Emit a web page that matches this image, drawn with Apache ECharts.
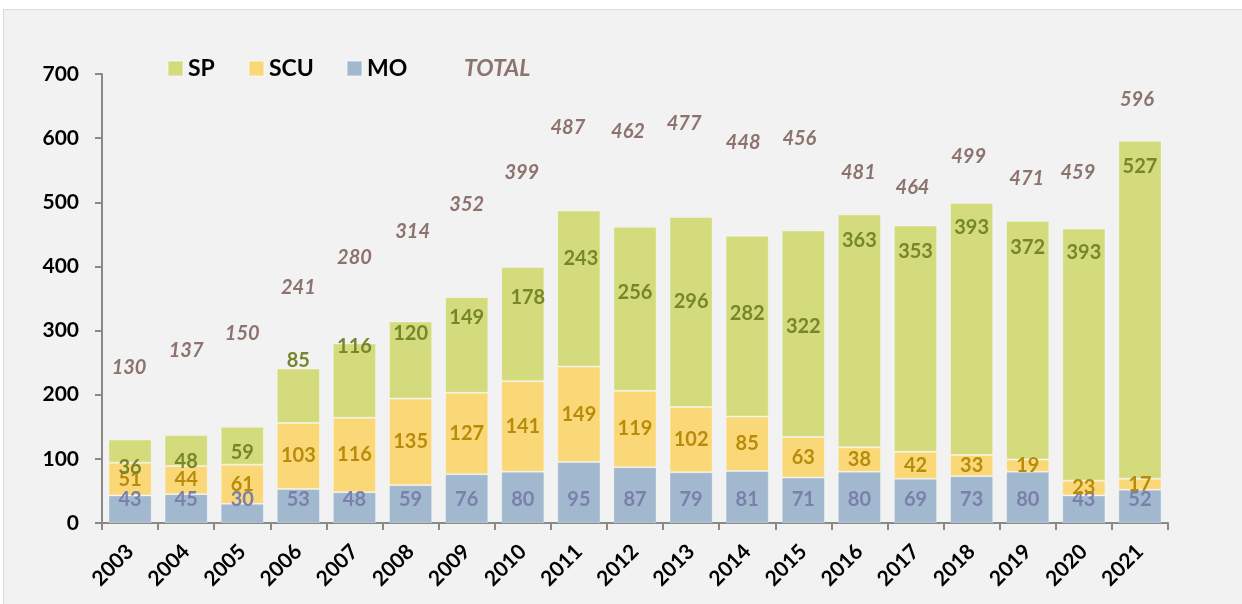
<!DOCTYPE html>
<html>
<head>
<meta charset="utf-8">
<script src="https://cdn.jsdelivr.net/npm/echarts@6/dist/echarts.min.js"></script>
<style>
  html, body { margin:0; padding:0; background:#ffffff; }
  #panel { position:absolute; left:3px; top:9px; width:1239px; height:595px; background:#f2f2f2; border-left:1px solid #dcdcdc; border-top:1px solid #dcdcdc; box-sizing:border-box; }
  #chart { position:absolute; left:0; top:0; width:1242px; height:604px; }
</style>
</head>
<body>
<div id="panel"></div>
<div id="chart"></div>
<script>
// ---- data ----
const categories = ['2003','2004','2005','2006','2007','2008','2009','2010','2011','2012','2013','2014','2015','2016','2017','2018','2019','2020','2021'];
const sp    = [36, 48, 59, 85, 116, 120, 149, 178, 243, 256, 296, 282, 322, 363, 353, 393, 372, 393, 527];
const scu   = [51, 44, 61, 103, 116, 135, 127, 141, 149, 119, 102, 85, 63, 38, 42, 33, 19, 23, 17];
const mo    = [43, 45, 30, 53, 48, 59, 76, 80, 95, 87, 79, 81, 71, 80, 69, 73, 80, 43, 52];
const total = [130, 137, 150, 241, 280, 314, 352, 399, 487, 462, 477, 448, 456, 481, 464, 499, 471, 459, 596];
const yTicks = { min: 0, max: 700, interval: 100 };

// ---- label placement tweaks (pixels, as in the original's hand-moved labels) ----
const spLabelDx    = [0,0,0,0,0,0,0,5,2,0,0,0,0,0,0,0,0,0,0];
const spLabelDy    = [16,11,7,-35,-34,-27,-27,-27,-30,-16,-10,-13,-7,-90,-87,-101,-93,-102,-143];
const totalLabelDx = [-1,0,0,0,0,2,0,-1,-11,-7,-7,-4,-4,-1,-3,-3,-1,-6,-3];
const totalLabelDy = [-72,-85,-93,-81,-86,-90,-93,-95,-83,-95,-93,-93,-92,-42,-38,-46,-42,-56,-41];

const FONT = 'Lato';
const colSP = '#d4db7c', colSCU = '#fad878', colMO = '#a1b8cf';
const labSP = '#76872b', labSCU = '#b88c0a', labMO = '#7a80aa', labTot = '#8c736e';
const axisCol = '#898989';

const labelBase = { show: true, fontFamily: FONT, fontWeight: 'bold', fontSize: 20 };
const barCommon = { type: 'bar', stack: 'all', barCategoryGap: '23%' };

const chart = echarts.init(document.getElementById('chart'), null, { renderer: 'canvas' });
const legendCommon = {
  top: 57, padding: 0, itemWidth: 15, itemHeight: 15, icon: 'rect',
  textStyle: { fontFamily: FONT, fontWeight: 'bold', fontSize: 23, color: '#000' },
  selectedMode: false
};
chart.setOption({
  backgroundColor: 'transparent',
  animation: false,
  grid: { left: 102, right: 74, top: 74, bottom: 81, containLabel: false },
  legend: [
    Object.assign({}, legendCommon, { left: 167, data: ['SP'] }),
    Object.assign({}, legendCommon, { left: 248, data: ['SCU'] }),
    Object.assign({}, legendCommon, { left: 346, data: ['MO'] }),
    Object.assign({}, legendCommon, { left: 444, data: [{ name: 'TOTAL', icon: 'none' }],
      textStyle: { fontFamily: FONT, fontWeight: 'bold', fontStyle: 'italic', fontSize: 23, color: labTot } })
  ],
  xAxis: {
    type: 'category', data: categories,
    axisLine: { lineStyle: { color: axisCol, width: 2 } },
    axisTick: { show: true, length: 7, lineStyle: { color: axisCol, width: 2 } },
    axisLabel: { interval: 0, rotate: 45, margin: 25, fontFamily: FONT, fontWeight: 'bold', fontSize: 21, color: '#000' }
  },
  yAxis: {
    type: 'value', min: yTicks.min, max: yTicks.max, interval: yTicks.interval,
    axisLine: { show: true, lineStyle: { color: axisCol, width: 2 } },
    axisTick: { show: true, length: 7, lineStyle: { color: axisCol, width: 2 } },
    splitLine: { show: false },
    axisLabel: { margin: 23, fontFamily: FONT, fontWeight: 'bold', fontSize: 21, color: '#000' }
  },
  series: [
    Object.assign({}, barCommon, {
      name: 'MO', data: mo,
      itemStyle: { color: colMO, borderColor: 'rgba(255,255,255,0.35)', borderWidth: 1 },
      label: Object.assign({}, labelBase, { position: 'insideBottom', distance: 13, color: labMO })
    }),
    Object.assign({}, barCommon, {
      name: 'SCU', data: scu,
      itemStyle: { color: colSCU, borderColor: 'rgba(255,255,255,0.35)', borderWidth: 1 },
      label: Object.assign({}, labelBase, { position: 'inside', color: labSCU })
    }),
    Object.assign({}, barCommon, {
      name: 'SP',
      data: sp.map((v, i) => ({ value: v, label: { offset: [spLabelDx[i], spLabelDy[i]] } })),
      itemStyle: { color: colSP, borderColor: 'rgba(255,255,255,0.35)', borderWidth: 1 },
      label: Object.assign({}, labelBase, { position: 'inside', color: labSP })
    }),
    {
      name: 'TOTAL', type: 'line', z: 5,
      data: total.map((v, i) => ({ value: v, label: { offset: [totalLabelDx[i], totalLabelDy[i]] } })),
      symbol: 'circle', symbolSize: 1, showSymbol: true,
      itemStyle: { color: 'rgba(0,0,0,0)' },
      lineStyle: { opacity: 0 },
      label: { show: true, position: 'inside', fontFamily: FONT, fontWeight: 'bold', fontStyle: 'italic', fontSize: 20, color: labTot }
    }
  ]
});
</script>
</body>
</html>
